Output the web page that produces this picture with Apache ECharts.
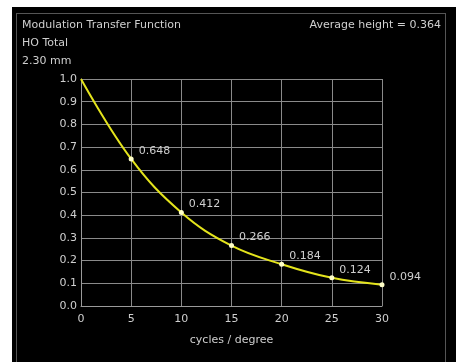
<!DOCTYPE html>
<html>
<head>
<meta charset="utf-8">
<script src="https://cdn.jsdelivr.net/npm/echarts@6/dist/echarts.min.js"></script>
<style>
  html, body { margin: 0; padding: 0; background: #ffffff; }
  #panel { position: absolute; left: 12px; top: 7px; width: 444px; height: 355px; background: #000; }
  #border { position: absolute; left: 16px; top: 13px; width: 430px; height: 360px; border: 1px solid #555; box-sizing: border-box; }
  #chart { position: absolute; left: 0; top: 0; width: 459px; height: 362px; }
</style>
</head>
<body>
<div id="panel"></div>
<div id="border"></div>
<div id="chart"></div>
<script>
const frequencies = [0, 5, 10, 15, 20, 25, 30];
const mtfValues = [1.0, 0.648, 0.412, 0.266, 0.184, 0.124, 0.094];
const titleLines = ['Modulation Transfer Function', 'HO Total', '2.30 mm'];
const averageText = 'Average height = 0.364';
const xTicks = [0, 5, 10, 15, 20, 25, 30];
const yTicks = [0, 0.1, 0.2, 0.3, 0.4, 0.5, 0.6, 0.7, 0.8, 0.9, 1.0];

const chart = echarts.init(document.getElementById('chart'), null, { renderer: 'canvas' });
const txt = '#cfcfcf';
const font = 'DejaVu Sans, Verdana, sans-serif';

const seriesData = frequencies.map((f, i) => {
  const item = { value: [f, mtfValues[i]] };
  if (i === 0) { item.symbol = 'none'; item.label = { show: false }; }
  return item;
});

chart.setOption({
  backgroundColor: 'transparent',
  animation: false,
  title: [
    { text: titleLines.join('\n'), left: 22, top: 16, padding: 0,
      textStyle: { color: txt, fontSize: 11, fontWeight: 'normal', fontFamily: font, lineHeight: 18 } },
    { text: averageText, right: 18, top: 16, padding: 0,
      textStyle: { color: txt, fontSize: 11, fontWeight: 'normal', fontFamily: font, lineHeight: 18 } }
  ],
  grid: { left: 81, right: 77, top: 79, bottom: 56, containLabel: false },
  xAxis: {
    type: 'value', min: xTicks[0], max: xTicks[xTicks.length - 1], interval: 5,
    name: 'cycles / degree', nameLocation: 'middle', nameGap: 29,
    nameTextStyle: { color: txt, fontSize: 11, fontFamily: font },
    axisLine: { show: true, lineStyle: { color: '#9a9a9a', width: 1 } },
    axisTick: { show: false },
    axisLabel: { color: txt, fontSize: 11, fontFamily: font, margin: 8 },
    splitLine: { show: true, lineStyle: { color: '#8a8a8a', width: 1 } }
  },
  yAxis: {
    type: 'value', min: yTicks[0], max: yTicks[yTicks.length - 1], interval: 0.1,
    axisLine: { show: true, lineStyle: { color: '#9a9a9a', width: 1 } },
    axisTick: { show: false },
    axisLabel: { color: txt, fontSize: 11, fontFamily: font, margin: 4, formatter: v => v.toFixed(1) },
    splitLine: { show: true, lineStyle: { color: '#8a8a8a', width: 1 } }
  },
  series: [{
    type: 'line',
    data: seriesData,
    smooth: 0.4,
    symbol: 'circle',
    symbolSize: 5,
    showAllSymbol: true,
    lineStyle: { color: '#e4e41c', width: 2 },
    itemStyle: { color: '#ffffc8', borderWidth: 0 },
    label: {
      show: true, position: 'right', offset: [0, -8],
      color: txt, fontSize: 11, fontFamily: font,
      formatter: p => p.value[1].toFixed(3)
    }
  }]
});
</script>
</body>
</html>
